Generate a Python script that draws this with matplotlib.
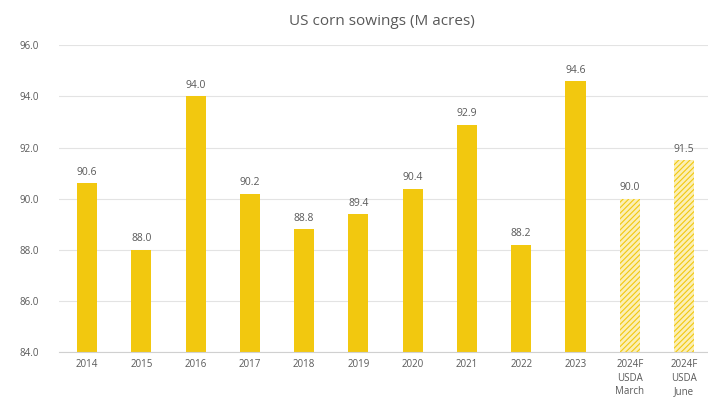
import matplotlib.pyplot as plt

plt.rcParams['font.family'] = ['Open Sans', 'DejaVu Sans']

years = ['2014', '2015', '2016', '2017', '2018', '2019', '2020', '2021', '2022', '2023',
         '2024F\nUSDA\nMarch', '2024F\nUSDA\nJune']
acres = [90.6, 88.0, 94.0, 90.2, 88.8, 89.4, 90.4, 92.9, 88.2, 94.6, 90.0, 91.5]
forecast = [False] * 10 + [True, True]

gold = '#F2C80F'
text_gray = '#595959'

fig = plt.figure(figsize=(7.08, 4.12), dpi=100)
ax = fig.add_axes([0.083, 0.145, 0.92, 0.745])

plt.rcParams['hatch.color'] = gold
plt.rcParams['hatch.linewidth'] = 0.8
x = list(range(len(years)))
for i, (v, f) in enumerate(zip(acres, forecast)):
    if f:
        ax.bar(i, v - 84, bottom=84, width=0.37, color='#FBEFB5', hatch='//////',
               edgecolor=gold, linewidth=0, zorder=3)
    else:
        ax.bar(i, v - 84, bottom=84, width=0.37, color=gold, zorder=3)
    ax.text(i, v + 0.22, f'{v:.1f}', ha='center', va='bottom', fontsize=7.5, color=text_gray)

ax.set_ylim(84, 96)
ax.set_xlim(-0.52, len(years) - 0.52)
ax.set_yticks([84, 86, 88, 90, 92, 94, 96])
ax.set_yticklabels([f'{t:.1f}' for t in [84, 86, 88, 90, 92, 94, 96]])
ax.set_xticks(x)
ax.set_xticklabels(years, fontsize=7, color=text_gray, linespacing=1.3)
ax.tick_params(axis='y', labelsize=7, labelcolor=text_gray, length=0, pad=14)
ax.tick_params(axis='x', length=0, pad=5)
ax.grid(axis='y', color='#E3E3E3', linewidth=0.8, zorder=0)
for s in ['top', 'right', 'left']:
    ax.spines[s].set_visible(False)
ax.spines['bottom'].set_color('#D0D0D0')
ax.spines['bottom'].set_zorder(4)

fig.suptitle('US corn sowings (M acres)', x=0.54, y=0.965, fontsize=11, color=text_gray)

fig.savefig('out.png', dpi=100)
